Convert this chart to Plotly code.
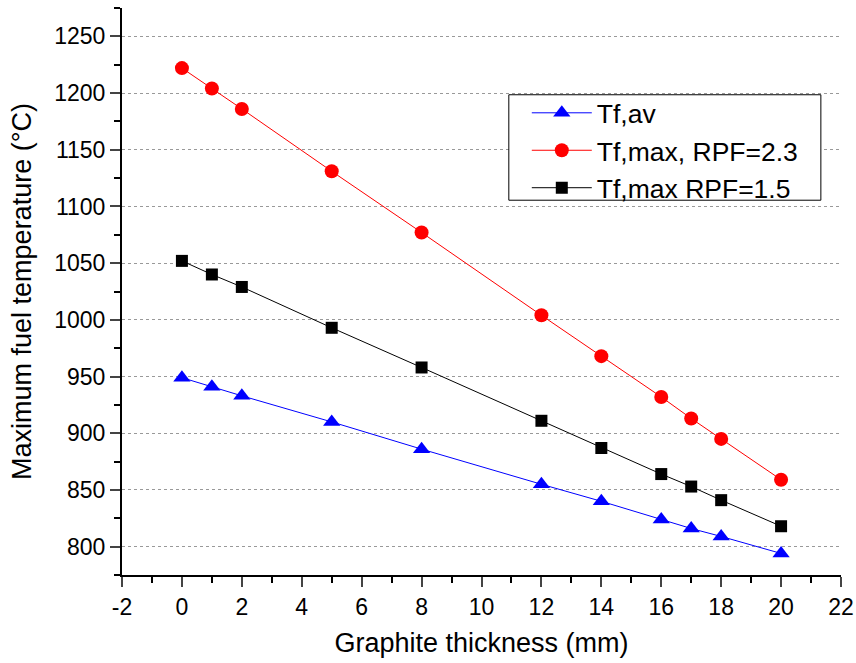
import plotly.graph_objects as go

thickness = [0, 1, 2, 5, 8, 12, 14, 16, 17, 18, 20]
tf_av = [949, 941, 933, 910, 886, 855, 840, 824, 816, 809, 794]
tf_max_23 = [1222, 1204, 1186, 1131, 1077, 1004, 968, 932, 913, 895, 859]
tf_max_15 = [1052, 1040, 1029, 993, 958, 911, 887, 864, 853, 841, 818]

x_ticks = list(range(-2, 23, 2))
x_labels = [str(v) for v in x_ticks]
y_ticks = list(range(800, 1251, 50))

fig = go.Figure()
fig.add_trace(go.Scatter(x=thickness, y=tf_av, name="Tf,av", mode="lines+markers",
                         line=dict(color="#0000ff", width=1),
                         marker=dict(symbol="triangle-up", size=15, color="#0000ff")))
fig.add_trace(go.Scatter(x=thickness, y=tf_max_23, name="Tf,max, RPF=2.3", mode="lines+markers",
                         line=dict(color="#ff0000", width=1),
                         marker=dict(symbol="circle", size=14, color="#ff0000")))
fig.add_trace(go.Scatter(x=thickness, y=tf_max_15, name="Tf,max RPF=1.5", mode="lines+markers",
                         line=dict(color="#000000", width=1),
                         marker=dict(symbol="square", size=12, color="#000000")))

fig.update_layout(
    width=856, height=663,
    margin=dict(l=122, r=15, t=8, b=88),
    paper_bgcolor="white", plot_bgcolor="white",
    font=dict(family="Liberation Sans, Arial", size=23, color="black"),
    showlegend=True,
    legend=dict(x=0.563, y=0.857, xanchor="left", yanchor="top",
                borderwidth=0, bgcolor="rgba(0,0,0,0)",
                font=dict(size=26.5), tracegroupgap=0, itemwidth=60),
    shapes=[dict(type="rect", xref="paper", yref="paper",
                 x0=0.538, x1=0.972, y0=0.661, y1=0.847,
                 line=dict(color="black", width=1), fillcolor="white", layer="above")],
)
fig.update_xaxes(range=[-2, 22], tickvals=x_ticks, ticktext=x_labels, ticks="outside", ticklen=10, tickwidth=2,
                 showline=True, linecolor="black", linewidth=2, showgrid=False, zeroline=False,
                 minor=dict(ticks="outside", ticklen=6, tickwidth=2, dtick=1, tickcolor="black"),
                 title=dict(text="Graphite thickness (mm)", font=dict(size=27)),
                 tickfont=dict(size=23), automargin=False)
fig.update_yaxes(range=[775, 1275], tickvals=y_ticks, ticks="outside", ticklen=10, tickwidth=2,
                 showline=True, linecolor="black", linewidth=2, showgrid=True,
                 gridcolor="#999999", griddash="dot", gridwidth=1, zeroline=False,
                 minor=dict(ticks="outside", ticklen=6, tickwidth=2, dtick=25, tickcolor="black", showgrid=False),
                 title=dict(text="Maximum fuel temperature (°C)", font=dict(size=27)),
                 tickfont=dict(size=23), automargin=False)

fig.write_html("out.html")
